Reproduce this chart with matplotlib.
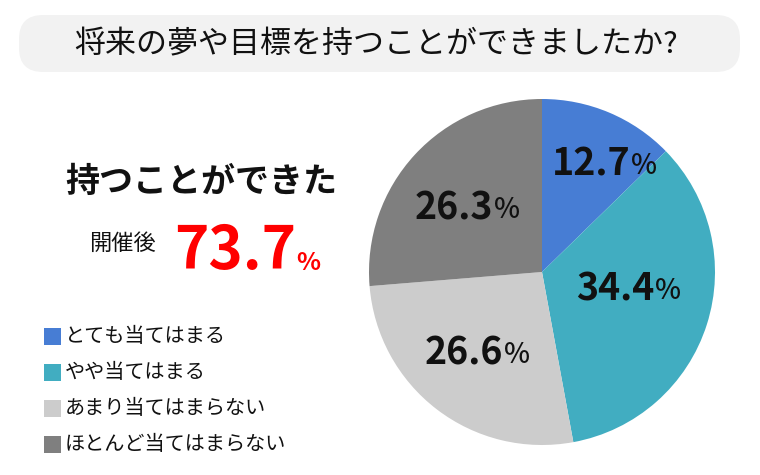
import matplotlib
matplotlib.use("Agg")
import matplotlib.pyplot as plt
import numpy as np
from matplotlib.patches import FancyBboxPatch, Rectangle
from matplotlib.transforms import ScaledTranslation

plt.rcParams['font.family'] = ['Noto Sans CJK JP', 'DejaVu Sans']

# ---- data ----
title = "将来の夢や目標を持つことができましたか?"
categories = ["とても当てはまる", "やや当てはまる", "あまり当てはまらない", "ほとんど当てはまらない"]
values = [12.7, 34.4, 26.6, 26.3]
colors = ["#477dd4", "#41adc1", "#cccccc", "#7f7f7f"]
headline = "持つことができた"
sub_label = "開催後"
total_value = 73.7

# label placement styles (distance from centre, angular nudge in degrees)
label_dist = [0.72, 0.51, 0.60, 0.57]
label_nudge = [-7.0, 6.5, -1.5, 2.5]

W, H = 760, 475
fig = plt.figure(figsize=(W / 100, H / 100), dpi=100)
bg = fig.add_axes([0, 0, 1, 1])
bg.set_xlim(0, W)
bg.set_ylim(H, 0)
bg.axis('off')

# title pill
box = FancyBboxPatch((19, 15), 721, 57, boxstyle="round,pad=0,rounding_size=24",
                     facecolor="#f2f2f2", edgecolor="none")
bg.add_patch(box)
bg.text(376, 45, title, ha='center', va='center', fontsize=22.3, color="#111111")

# headline
bg.text(201, 181, headline, ha='center', va='center', fontsize=24.5,
        fontweight='bold', color="#111111")
bg.text(122, 243, sub_label, ha='center', va='center', fontsize=16, color="#111111")
big = bg.text(174, 269, f"{total_value:.1f}", ha='left', va='baseline', fontsize=42,
              fontweight='bold', color="#ff0000")
bg.annotate("%", xy=(1, 0), xycoords=big, xytext=(0, 5), textcoords='offset points',
            ha='left', va='bottom', fontsize=18, fontweight='bold', color="#ff0000")

# legend
for i, (cat, col) in enumerate(zip(categories, colors)):
    yc = 336 + i * 36
    bg.add_patch(Rectangle((44, yc - 8.5), 17, 17, facecolor=col, edgecolor='none'))
    bg.text(65, yc, cat, ha='left', va='center', fontsize=14.5, color="#111111")

# pie
cx, cy, r = 542, 272, 173
ax = fig.add_axes([(cx - r) / W, (H - cy - r) / H, 2 * r / W, 2 * r / H])
wedges, _ = ax.pie(values, colors=colors, startangle=90, counterclock=False,
                   radius=1, wedgeprops=dict(linewidth=0))
ax.set_xlim(-1, 1)
ax.set_ylim(-1, 1)
ax.axis('off')

fig.canvas.draw()
renderer = fig.canvas.get_renderer()
for w, v, d, nd in zip(wedges, values, label_dist, label_nudge):
    mid = np.deg2rad((w.theta1 + w.theta2) / 2 + nd)
    x, y = d * np.cos(mid), d * np.sin(mid)
    num = ax.text(x, y, f"{v:.1f}", ha='center', va='center', fontsize=27,
                  fontweight='bold', color="#111111")
    pct = ax.annotate("%", xy=(1, 0), xycoords=num, xytext=(0.5, 2.5),
                      textcoords='offset points', ha='left', va='bottom',
                      fontsize=20, fontweight='medium', color="#111111")
    fig.canvas.draw()
    pw = pct.get_window_extent(renderer).width
    num.set_transform(ax.transData + ScaledTranslation(-pw / 2 / fig.dpi, 0, fig.dpi_scale_trans))

fig.savefig("out.png", dpi=100)
